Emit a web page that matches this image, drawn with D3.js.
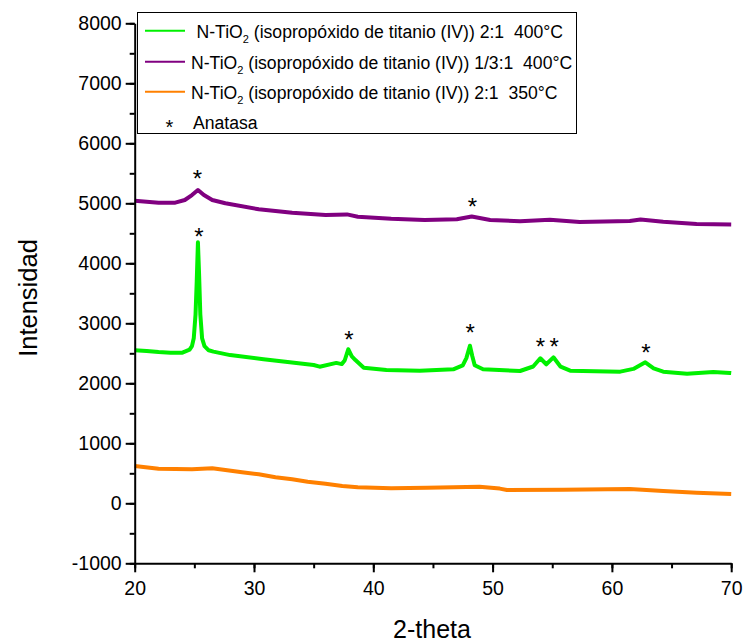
<!DOCTYPE html>
<html>
<head>
<meta charset="utf-8">
<script src="https://cdn.jsdelivr.net/npm/d3@7"></script>
<style>
  html, body { margin: 0; padding: 0; background: #fff; }
  svg { display: block; font-family: "Liberation Sans", Arial, sans-serif; }
  text { white-space: pre; }
</style>
</head>
<body>
<svg id="chart" width="745" height="642"></svg>
<script>
// ---- Data ----
const greenX = [20, 21, 22, 23, 24, 24.6, 24.8, 24.95, 25.1, 25.2, 25.3, 25.4, 25.5, 25.65, 25.85, 26.2, 26.6, 28, 30.8, 33, 35, 35.5, 36.9, 37.35, 37.6, 37.9, 38.2, 38.5, 39.2, 41.1, 43.9, 46.7, 47.5, 47.8, 48.1, 48.3, 48.5, 49.2, 52.3, 53.4, 54.0, 54.5, 55.1, 55.7, 56.5, 60.7, 61.8, 62.8, 63.5, 64.3, 66.3, 68.5, 69.9, 70];
const greenY = [2550, 2540, 2520, 2510, 2510, 2560, 2620, 2750, 3150, 3700, 4350, 3800, 3150, 2750, 2620, 2550, 2528, 2470, 2400, 2350, 2305, 2277, 2340, 2320, 2380, 2567, 2450, 2388, 2260, 2222, 2210, 2233, 2300, 2420, 2627, 2450, 2300, 2233, 2205, 2280, 2417, 2317, 2433, 2277, 2210, 2194, 2240, 2350, 2250, 2194, 2160, 2190, 2172, 2170];

const purpleX = [20, 22, 23.4, 24.2, 24.8, 25.3, 25.8, 26.5, 27.6, 30.4, 33.2, 36.0, 37.8, 38.7, 41.5, 44.3, 47.0, 48.25, 49.8, 52.3, 54.8, 57.3, 61.5, 62.4, 64.3, 67.1, 70];
const purpleY = [5043, 5010, 5010, 5055, 5138, 5222, 5138, 5055, 5000, 4900, 4843, 4805, 4815, 4777, 4743, 4722, 4733, 4780, 4722, 4700, 4725, 4690, 4705, 4730, 4693, 4655, 4645];

const orangeX = [20, 22, 24.8, 26.5, 27.6, 29.0, 30.4, 31.8, 33.2, 34.5, 36.0, 37.4, 38.7, 41.5, 44.5, 48.9, 50.6, 51.2, 55.9, 61.5, 64.3, 67.1, 70];
const orangeY = [622, 577, 567, 583, 555, 517, 483, 433, 400, 360, 327, 288, 267, 250, 260, 277, 245, 222, 225, 238, 205, 177, 155];

// Anatase markers (2-theta, intensity at the mark's centre)
const starX = [25.25, 25.39, 48.3, 37.96, 48.13, 54.0, 55.17, 62.86];
const starY = [5500, 4540, 5040, 2820, 2933, 2693, 2693, 2593];

const seriesNames = ["green", "purple", "orange"];
const seriesColors = ["#00f000", "#800080", "#ff8000"];
const legendMain = ["N-TiO", "N-TiO", "N-TiO"];
const legendRest = [" (isopropóxido de titanio (IV)) 2:1  400°C", " (isopropóxido de titanio (IV)) 1/3:1  400°C", " (isopropóxido de titanio (IV)) 2:1  350°C"];
const legendStarLabel = "Anatasa";

const xTicks = [20, 30, 40, 50, 60, 70];
const yTicks = [-1000, 0, 1000, 2000, 3000, 4000, 5000, 6000, 7000, 8000];
const xLabel = "2-theta";
const yLabel = "Intensidad";

// ---- Chart ----
const svg = d3.select("#chart");
const x = d3.scaleLinear().domain([20, 70]).range([134.7, 731.2]);
const y = d3.scaleLinear().domain([-1000, 8000]).range([563.3, 23.3]);

const seriesData = [
  greenX.map((v, i) => [v, greenY[i]]),
  purpleX.map((v, i) => [v, purpleY[i]]),
  orangeX.map((v, i) => [v, orangeY[i]])
];

const line = d3.line().x(d => x(d[0])).y(d => y(d[1])).curve(d3.curveLinear);

svg.append("g").selectAll("path")
  .data(seriesData)
  .join("path")
  .attr("d", line)
  .attr("fill", "none")
  .attr("stroke", (d, i) => seriesColors[i])
  .attr("stroke-width", 4)
  .attr("stroke-linejoin", "round");

// asterisks
const starFs = 24;
svg.append("g").selectAll("text")
  .data(starX.map((v, i) => [v, starY[i]]))
  .join("text")
  .attr("x", d => x(d[0]))
  .attr("y", d => y(d[1]) + 0.57 * starFs)
  .attr("text-anchor", "middle")
  .attr("font-size", starFs)
  .attr("fill", "#000")
  .text("*");

// axes
const tickFs = 19.5;
const fmt = d => String(d);
const xMinor = d3.range(20, 70.01, 5);
const yMinor = d3.range(-1000, 8000.01, 500);

const gx = svg.append("g").attr("transform", `translate(0,${y(-1000)})`);
gx.call(d3.axisBottom(x).tickValues(xMinor).tickSize(5).tickFormat(""));
gx.call(g => g.selectAll(".domain").remove());
const gx2 = svg.append("g").attr("transform", `translate(0,${y(-1000)})`);
gx2.call(d3.axisBottom(x).tickValues(xTicks).tickSize(9).tickSizeOuter(0).tickPadding(9).tickFormat(fmt));

const gy = svg.append("g").attr("transform", `translate(${x(20)},0)`);
gy.call(d3.axisLeft(y).tickValues(yMinor).tickSize(5).tickFormat(""));
gy.call(g => g.selectAll(".domain").remove());
const gy2 = svg.append("g").attr("transform", `translate(${x(20)},0)`);
gy2.call(d3.axisLeft(y).tickValues(yTicks).tickSize(9).tickSizeOuter(0).tickPadding(4).tickFormat(fmt));

svg.selectAll(".tick line, .domain").attr("stroke", "#000").attr("stroke-width", 2);
svg.selectAll(".tick text").attr("font-size", tickFs).attr("fill", "#000")
  .attr("font-family", "'Liberation Sans', Arial, sans-serif");

// axis titles
svg.append("text")
  .attr("transform", "translate(37,298) rotate(-90)")
  .attr("text-anchor", "middle")
  .attr("font-size", 25.5)
  .attr("fill", "#000")
  .text(yLabel);
svg.append("text")
  .attr("x", 432).attr("y", 638)
  .attr("text-anchor", "middle")
  .attr("font-size", 25)
  .attr("fill", "#000")
  .text(xLabel);

// legend
const lg = svg.append("g");
lg.append("rect")
  .attr("x", 137.5).attr("y", 12.5)
  .attr("width", 439).attr("height", 121)
  .attr("fill", "#fff").attr("stroke", "#000").attr("stroke-width", 1);
const rowY = [30.7, 61.7, 91.7];
const textX = [196.5, 191, 191];
const legFs = 17.6;
seriesNames.forEach((n, i) => {
  lg.append("line")
    .attr("x1", 145).attr("x2", 185)
    .attr("y1", rowY[i]).attr("y2", rowY[i])
    .attr("stroke", seriesColors[i]).attr("stroke-width", 2);
  const t = lg.append("text")
    .attr("x", textX[i]).attr("y", rowY[i] + 7)
    .attr("font-size", legFs).attr("fill", "#000");
  t.append("tspan").text(legendMain[i]);
  t.append("tspan").attr("font-size", 11).attr("dy", 5).text("2");
  t.append("tspan").attr("dy", -5).text(legendRest[i]);
});
lg.append("text")
  .attr("x", 169.5).attr("y", 122.5 + 0.57 * 20)
  .attr("text-anchor", "middle").attr("font-size", 20).attr("fill", "#000")
  .text("*");
lg.append("text")
  .attr("x", 193).attr("y", 129)
  .attr("font-size", legFs).attr("fill", "#000")
  .text(legendStarLabel);
</script>
</body>
</html>
